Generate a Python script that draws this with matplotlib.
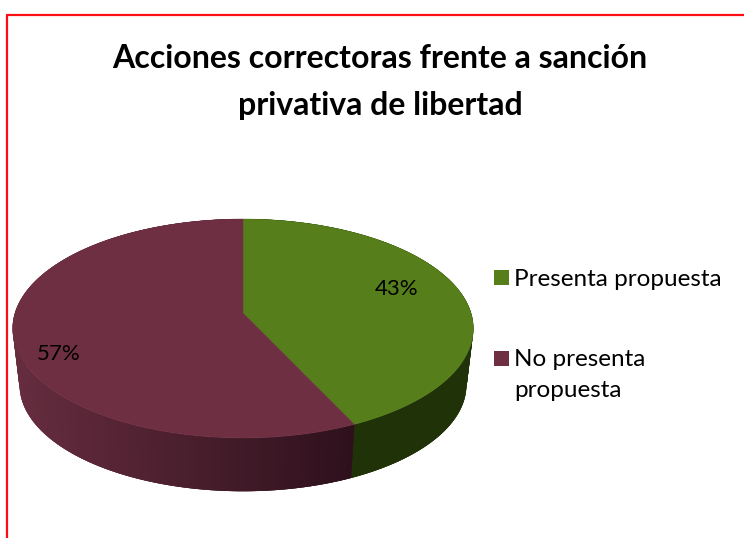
import numpy as np
import matplotlib
matplotlib.use("Agg")
import matplotlib.pyplot as plt
from matplotlib.patches import Rectangle

title = "Acciones correctoras frente a sanción\nprivativa de libertad"
categories = ["Presenta propuesta", "No presenta\npropuesta"]
values = [43, 57]
top_colors = ["#567e1a", "#6f2f43"]

W, H = 744, 538
fig = plt.figure(figsize=(W / 100, H / 100), dpi=100, facecolor="white")
ax = fig.add_axes([0, 0, 1, 1])
ax.set_xlim(0, W)
ax.set_ylim(H, 0)
ax.axis("off")

# perspective projection of the tilted pie
cx, cy = 243, 313
K, k, p = 228.0, 107.3, 0.1416
rim_scale, depth = 0.97, 57


def project(theta):
    u, v = np.sin(theta), np.cos(theta)
    d = 1 + p * v
    return K * u / d, -k * v / d


def lerp(a, b, t):
    return tuple((1 - t) * np.array(matplotlib.colors.to_rgb(a)) + t * np.array(matplotlib.colors.to_rgb(b)))


edges = np.concatenate([[0], np.cumsum(values)]) / np.sum(values) * 2 * np.pi

# side walls: each strip overlaps the next so that no seams appear
for i in range(len(values)):
    ts = np.linspace(edges[i], edges[i + 1], 160)
    start = ts[::-1] if i == 1 else ts
    for j in range(len(start) - 1):
        seg = start[j:j + 4]
        x, y = project(seg)
        xs = np.r_[cx + x, cx + rim_scale * x[::-1]]
        ys = np.r_[cy + y, cy + depth + rim_scale * y[::-1]]
        if i == 0:
            c = "#203208"
        else:
            f = np.clip((cx + x[0] - 12) / (352 - 12), 0, 1)
            c = lerp("#662d3f", "#2e101c", f)
        ax.fill(xs, ys, facecolor=c, edgecolor="none", lw=0, zorder=2)

# top faces
for i in range(len(values)):
    ts = np.linspace(edges[i], edges[i + 1], 300)
    x, y = project(ts)
    ax.fill(np.r_[cx, cx + x], np.r_[cy, cy + y], color=top_colors[i], lw=0.3, zorder=3)

FONT = "Lato"
ax.text(380, 82, title, ha="center", va="center", fontsize=23, fontweight="bold",
        family=FONT, color="black", linespacing=1.72, zorder=5)

total = sum(values)
label_pos = [(397, 289), (59, 354)]
for v, (lx, ly) in zip(values, label_pos):
    ax.text(lx, ly, f"{round(100 * v / total)}%", ha="center", va="center", fontsize=16,
            family=FONT, color="black", zorder=5)

legend_y = [277.5, 358.5]
for name, col, ly in zip(categories, top_colors, legend_y):
    ax.add_patch(Rectangle((493.5, ly - 7.5), 15, 15, facecolor=col, edgecolor="none", zorder=5))
    ax.text(514.5, ly - 9, name, ha="left", va="top", fontsize=17.5, family=FONT, color="black",
            linespacing=1.55, zorder=5)

# red frame
ax.plot([7, 7], [H, 15], color="#fb0f14", lw=1.6, solid_capstyle="butt", zorder=6)
ax.plot([6.2, W], [15, 15], color="#fb0f14", lw=1.6, solid_capstyle="butt", zorder=6)

fig.savefig("out.png", dpi=100)
